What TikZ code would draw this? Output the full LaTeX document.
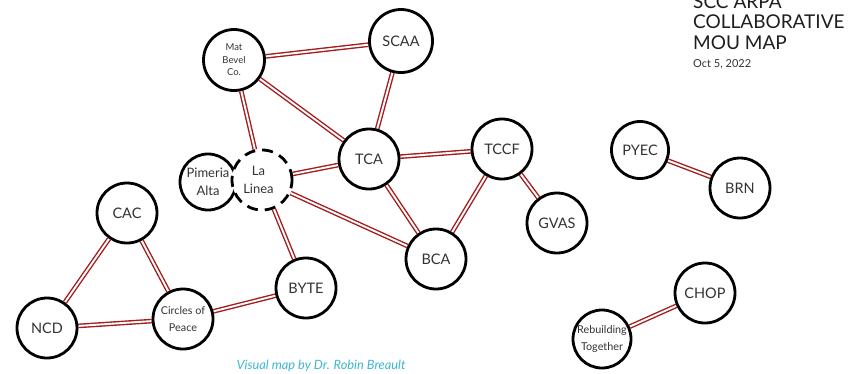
\documentclass[tikz,border=0pt]{standalone}
\usepackage{fontspec}
\setmainfont{Lato}
\usetikzlibrary{backgrounds}
\definecolor{linkred}{HTML}{A51C1C}
\definecolor{nodetext}{HTML}{333333}
\definecolor{titletext}{HTML}{1E1E1E}
\definecolor{capcyan}{HTML}{3DB7CF}
\tikzset{
  org/.style={circle, draw=black, fill=white, line width=2.8pt, minimum size=60pt, inner sep=0pt,
    text=nodetext, font=\fontsize{14.5}{16}\selectfont, align=center},
  orgsmall/.style={org, font=\fontsize{9.5}{12.5}\selectfont},
  orgmid/.style={org, font=\fontsize{13}{18.5}\selectfont},
  orgtwo/.style={org, font=\fontsize{10.8}{17.5}\selectfont},
  dashorg/.style={orgmid, dash pattern=on 11pt off 7pt},
  link/.style={draw=linkred, line width=1.4pt, double=white, double distance=1.9pt},
  titleline/.style={anchor=base west, inner sep=0pt, text=titletext, font=\fontsize{19}{20}\selectfont},
}
\begin{document}
\begin{tikzpicture}[x=1pt,y=-1pt]
\useasboundingbox (0,0) rectangle (864,373);
\node[orgsmall, minimum size=61pt] (mat) at (234,60) {Mat\\Bevel\\Co.};
\node[org, minimum size=63pt] (scaa) at (401,41) {SCAA};
\node[org] (tca) at (369,159) {TCA};
\node[org] (tccf) at (502,149) {TCCF};
\node[orgmid, minimum size=56pt] (pim) at (208,182) {Pimeria\\Alta};
\node[dashorg, minimum size=60pt] (lal) at (262,180) {\hspace*{-7pt}La\\\hspace*{-7pt}Linea};
\node[org] (cac) at (127,213) {CAC};
\node[org] (gvas) at (557,223) {GVAS};
\node[org] (bca) at (436,259) {BCA};
\node[org] (byte) at (306,288) {BYTE};
\node[orgtwo] (cop) at (183,319) {Circles of\\Peace};
\node[org] (ncd) at (47,328) {NCD};
\node[org, minimum size=57pt] (pyec) at (640,150) {PYEC};
\node[org] (brn) at (740,188) {BRN};
\node[org] (chop) at (705,293) {CHOP};
\node[orgtwo, minimum size=58pt] (rbt) at (602,339) {Rebuilding\\Together};
\begin{pgfonlayer}{background}
\draw[link] (mat) -- (scaa);
\draw[link] (mat) -- (tca);
\draw[link] (mat) -- (lal);
\draw[link] (scaa) -- (tca);
\draw[link] (lal) -- (tca);
\draw[link] (tca) -- (tccf);
\draw[link] (tca) -- (bca);
\draw[link] (tccf) -- (bca);
\draw[link] (tccf) -- (gvas);
\draw[link] (lal) -- (bca);
\draw[link] (lal) -- (byte);
\draw[link] (cac) -- (ncd);
\draw[link] (cac) -- (cop);
\draw[link] (ncd) -- (cop);
\draw[link] (cop) -- (byte);
\draw[link] (pyec) -- (brn);
\draw[link] (chop) -- (rbt);
\end{pgfonlayer}
\node[titleline] (t1) at (693,8) {SCC ARPA};
\node[titleline] (t2) at (693,28) {COLLABORATIVE};
\node[titleline] (t3) at (693,49) {MOU MAP};
\node[anchor=base west, inner sep=0pt, text=nodetext, font=\fontsize{11}{12}\selectfont] (date) at (693,67) {Oct 5, 2022};
\node[anchor=base, inner sep=0pt, text=capcyan, font=\fontsize{12.8}{14}\selectfont\itshape] (cap) at (321,369) {Visual map by Dr. Robin Breault};
\end{tikzpicture}
\end{document}
